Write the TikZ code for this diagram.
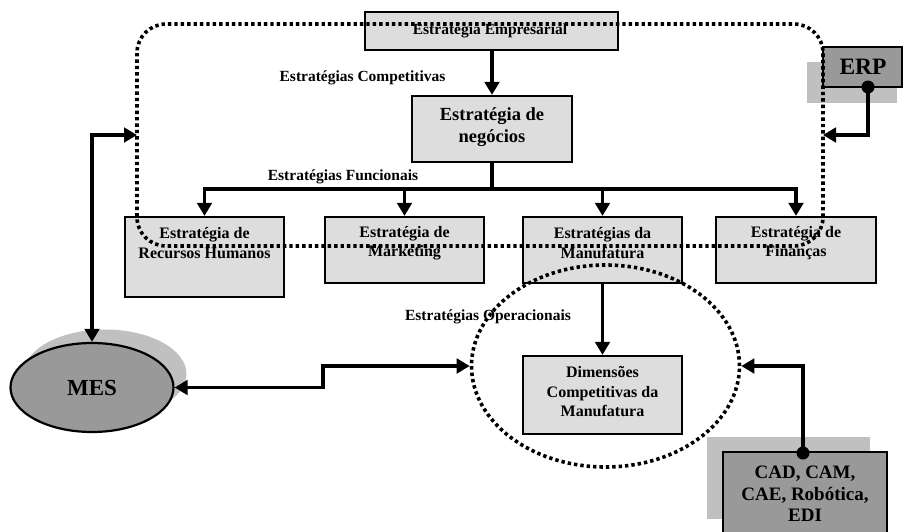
\documentclass[tikz,border=0pt]{standalone}
\usepackage{fontspec}
\setmainfont{Liberation Serif}
\usetikzlibrary{arrows.meta,shapes.geometric}
\definecolor{boxgray}{HTML}{DDDDDD}
\definecolor{darkfill}{HTML}{999999}
\definecolor{shadowgray}{HTML}{C0C0C0}

\begin{document}
\begin{tikzpicture}[x=1pt,y=-1pt,
  box/.style={draw=black, line width=2.2pt, fill=boxgray, rectangle, inner sep=0pt},
  dbox/.style={draw=black, line width=2.2pt, fill=darkfill, rectangle, inner sep=0pt},
  txt/.style={font=\fontsize{16}{19.5}\selectfont\bfseries, align=center, inner sep=0pt},
  lbl/.style={font=\fontsize{15.5}{18}\selectfont\bfseries, inner sep=0pt},
  conn/.style={line width=3.3pt},
  arr/.style={conn, -{Triangle[length=13pt,width=14.5pt]}},
  biarr/.style={conn, {Triangle[length=13pt,width=14.5pt]}-{Triangle[length=13pt,width=14.5pt]}},
  dots/.style={line width=3.6pt, dash pattern=on 3.4pt off 3pt},
  knob/.style={circle, fill=black, inner sep=0pt, minimum size=13pt}
]
\useasboundingbox (0,0) rectangle (903,531);
\clip (0,0) rectangle (903,531);

% drop shadows of the grey elements
\fill[shadowgray] (807,62) rectangle (897,103);
\fill[shadowgray] (707,437) rectangle (870,519);
\fill[shadowgray] (105,374) ellipse [x radius=81.5, y radius=44.5];

% strategy boxes
\node[box, minimum width=253pt, minimum height=38pt] (emp) at (491.5,31) {};
\node[box, minimum width=160pt, minimum height=66pt] (neg) at (492,129) {};
\node[box, minimum width=159pt, minimum height=80pt] (rh)  at (204.5,257) {};
\node[box, minimum width=159pt, minimum height=66pt] (mkt) at (404.5,250) {};
\node[box, minimum width=159pt, minimum height=66pt] (man) at (602.5,250) {};
\node[box, minimum width=160pt, minimum height=66pt] (fin) at (796,250) {};
\node[box, minimum width=159pt, minimum height=78pt] (dim) at (602.5,395) {};

% information systems
\node[dbox, minimum width=79pt, minimum height=40pt] (erp) at (862.5,67) {};
\node[dbox, minimum width=164pt, minimum height=94pt] (cad) at (805,499) {};
\node[draw=black, line width=2.2pt, fill=darkfill, ellipse, inner sep=0pt,
      minimum width=163pt, minimum height=89pt] (mes) at (92,387.5) {};

% box texts
\node[txt, font=\fontsize{15.5}{18}\selectfont\bfseries] (empT) at (490,31) {Estratégia Empresarial};
\node[txt, font=\fontsize{18.5}{22}\selectfont\bfseries] (negT) at (492,127) {Estratégia de\\negócios};
\node[txt] (rhT)  at (204.5,243) {Estratégia de\\Recursos Humanos};
\node[txt] (mktT) at (404.5,243) {Estratégia de\\Marketing};
\node[txt] (manT) at (602.5,243) {Estratégias da\\Manufatura};
\node[txt] (finT) at (796,243) {Estratégia de\\Finanças};
\node[txt] (dimT) at (602.5,392) {Dimensões\\Competitivas da\\Manufatura};
\node[txt, font=\fontsize{23.5}{26}\selectfont\bfseries] (erpT) at (863,67) {ERP};
\node[txt, font=\fontsize{19}{21.5}\selectfont\bfseries] (cadT) at (805,494) {CAD, CAM,\\CAE, Robótica,\\EDI};
\node[txt, font=\fontsize{23}{26}\selectfont\bfseries] (mesT) at (92,387.5) {MES};

% level labels
\node[lbl] (compL) at (362.5,78) {Estratégias Competitivas};
\node[lbl] (funcL) at (343,177) {Estratégias Funcionais};
\node[lbl] (operL) at (488,317) {Estratégias Operacionais};

% hierarchy connectors
\coordinate (bus) at (492,189);
\draw[arr] (emp.south -| neg.north) -- (neg.north);
\draw[conn] (neg.south) -- (bus);
\draw[arr] (bus) -| (rh.north);
\draw[arr] (bus) -| (mkt.north);
\draw[arr] (bus) -| (man.north);
\draw[arr] (bus) -| (fin.north);
\draw[arr] (man.south) -- (dim.north);

% boundary of the functional level (dotted)
\draw[dots, rounded corners=29pt] (137,24) rectangle (823,246);

% operational ring (dotted)
\node[draw=black, dots, ellipse, inner sep=0pt,
      minimum width=268pt, minimum height=202pt] (ops) at (605.5,366) {};

% links of the systems
\coordinate (mesIn) at (137,135);
\coordinate (mesJog) at (323,387.5);
\draw[biarr] (mesIn) -| (mes.north);
\draw[biarr] (mes.east) -- (mesJog) |- (ops.west);

\coordinate (erpOut) at (868,87);
\coordinate (erpIn) at (823,135);
\draw[arr] (erpOut) |- (erpIn);
\node[knob] (erpK) at (erpOut) {};

\coordinate (cadOut) at (803,453);
\draw[arr] (cadOut) |- (ops.east);
\node[knob] (cadK) at (cadOut) {};
\end{tikzpicture}
\end{document}
